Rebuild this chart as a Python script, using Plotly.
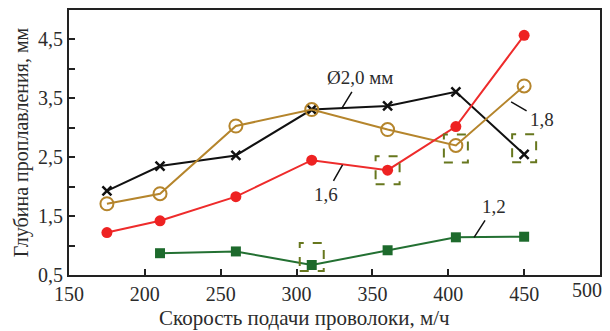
import plotly.graph_objects as go

# Wire feed speed, m/h
speed = [175, 210, 260, 310, 360, 405, 450]

# Penetration depth, mm, for each wire diameter
depth_20 = [1.93, 2.35, 2.53, 3.31, 3.37, 3.61, 2.55]
depth_18 = [1.71, 1.88, 3.03, 3.31, 2.97, 2.70, 3.71]
depth_16 = [1.22, 1.42, 1.83, 2.45, 2.28, 3.02, 4.57]
speed_12 = [210, 260, 310, 360, 405, 450]
depth_12 = [0.87, 0.90, 0.67, 0.92, 1.14, 1.15]

# Flagged points (speed, depth)
flag_x = [360, 405, 450, 310]
flag_y = [2.28, 2.70, 2.55, 0.67]
flag_shift = [0, -3, 6, 8]  # vertical pixel shift of each flag box

x_ticks = [150, 200, 250, 300, 350, 400, 450, 500]
x_tick_text = ["150", "200", "250", "300", "350", "400", "450", ""]
y_ticks = [0.5, 1.5, 2.5, 3.5, 4.5]
y_tick_text = ["0,5", "1,5", "2,5", "3,5", "4,5"]

FONT = '"Liberation Serif", "Times New Roman", Times, serif'
INK = "#2b2b2b"

fig = go.Figure()

fig.add_trace(go.Scatter(
    x=speed, y=depth_20, mode="lines+markers",
    line=dict(color="#111111", width=2),
    marker=dict(symbol="x-thin", size=9, line=dict(color="#111111", width=2.5)),
))
fig.add_trace(go.Scatter(
    x=speed, y=depth_18, mode="lines+markers",
    line=dict(color="#b5852c", width=2),
    marker=dict(symbol="circle-open", size=13, color="#b5852c", line=dict(width=2)),
))
fig.add_trace(go.Scatter(
    x=speed, y=depth_16, mode="lines+markers",
    line=dict(color="#ee2b2b", width=2),
    marker=dict(symbol="circle", size=11, color="#ee2222"),
))
fig.add_trace(go.Scatter(
    x=speed_12, y=depth_12, mode="lines+markers",
    line=dict(color="#237032", width=2),
    marker=dict(symbol="square", size=10, color="#1d6a2c"),
))

# Dashed flag boxes anchored on data points
for fx, fy, dy in zip(flag_x, flag_y, flag_shift):
    fig.add_shape(
        type="rect", xref="x", yref="y",
        xsizemode="pixel", ysizemode="pixel",
        xanchor=fx, yanchor=fy,
        x0=-12, x1=12, y0=-14 + dy, y1=14 + dy,
        line=dict(color="#67771e", width=2, dash="dash"),
    )

# Curve labels with leader lines
labels = [
    (329.6, 3.32, "\u00d82,0 мм", 19, -31),
    (441.4, 3.44, "1,8", 31, 18),
    (330.3, 2.37, "1,6", -17, 30),
    (417.0, 1.14, "1,2", 20, -31),
]
for lx, ly, txt, ax, ay in labels:
    fig.add_annotation(
        x=lx, y=ly, text=txt, showarrow=True, arrowhead=0,
        arrowwidth=1.5, arrowcolor="#111111", ax=ax, ay=ay,
        borderpad=3, font=dict(family=FONT, size=19, color=INK),
    )

# Last x tick label, pulled inside the figure edge
fig.add_annotation(
    x=x_ticks[-1], y=0, xref="x", yref="paper", yanchor="top",
    text=str(x_ticks[-1]), showarrow=False, xshift=-13, yshift=-2,
    font=dict(family=FONT, size=20, color=INK),
)

# X axis title
fig.add_annotation(
    x=(305 - 69) / (602 - 69), y=-(318 - 275) / (275 - 9),
    xref="paper", yref="paper", xanchor="center", yanchor="middle",
    showarrow=False, text="Скорость подачи проволоки, м/ч",
    font=dict(family=FONT, size=21, color=INK),
)

fig.update_layout(
    width=610, height=331,
    margin=dict(l=69, r=8, t=9, b=56),
    paper_bgcolor="white", plot_bgcolor="white",
    showlegend=False,
    font=dict(family=FONT, size=20, color=INK),
)
fig.update_xaxes(
    range=[150, 500], tickvals=x_ticks, ticktext=x_tick_text,
    ticks="inside", ticklen=6, tickwidth=1.5, tickcolor="#222",
    showline=True, linecolor="#222", linewidth=2, mirror=True,
    showgrid=False, zeroline=False,
)
fig.update_yaxes(
    range=[0.5, 5.0], tickvals=y_ticks, ticktext=y_tick_text,
    ticks="inside", ticklen=6, tickwidth=1.5, tickcolor="#222",
    minor=dict(dtick=0.5, tick0=0.5, ticks="inside", ticklen=6, tickwidth=1.5, tickcolor="#222"),
    showline=True, linecolor="#222", linewidth=2, mirror=True,
    showgrid=False, zeroline=False,
    title=dict(text="Глубина проплавления, мм", standoff=4,
               font=dict(family=FONT, size=20, color=INK)),
)

fig.write_html("out.html")
